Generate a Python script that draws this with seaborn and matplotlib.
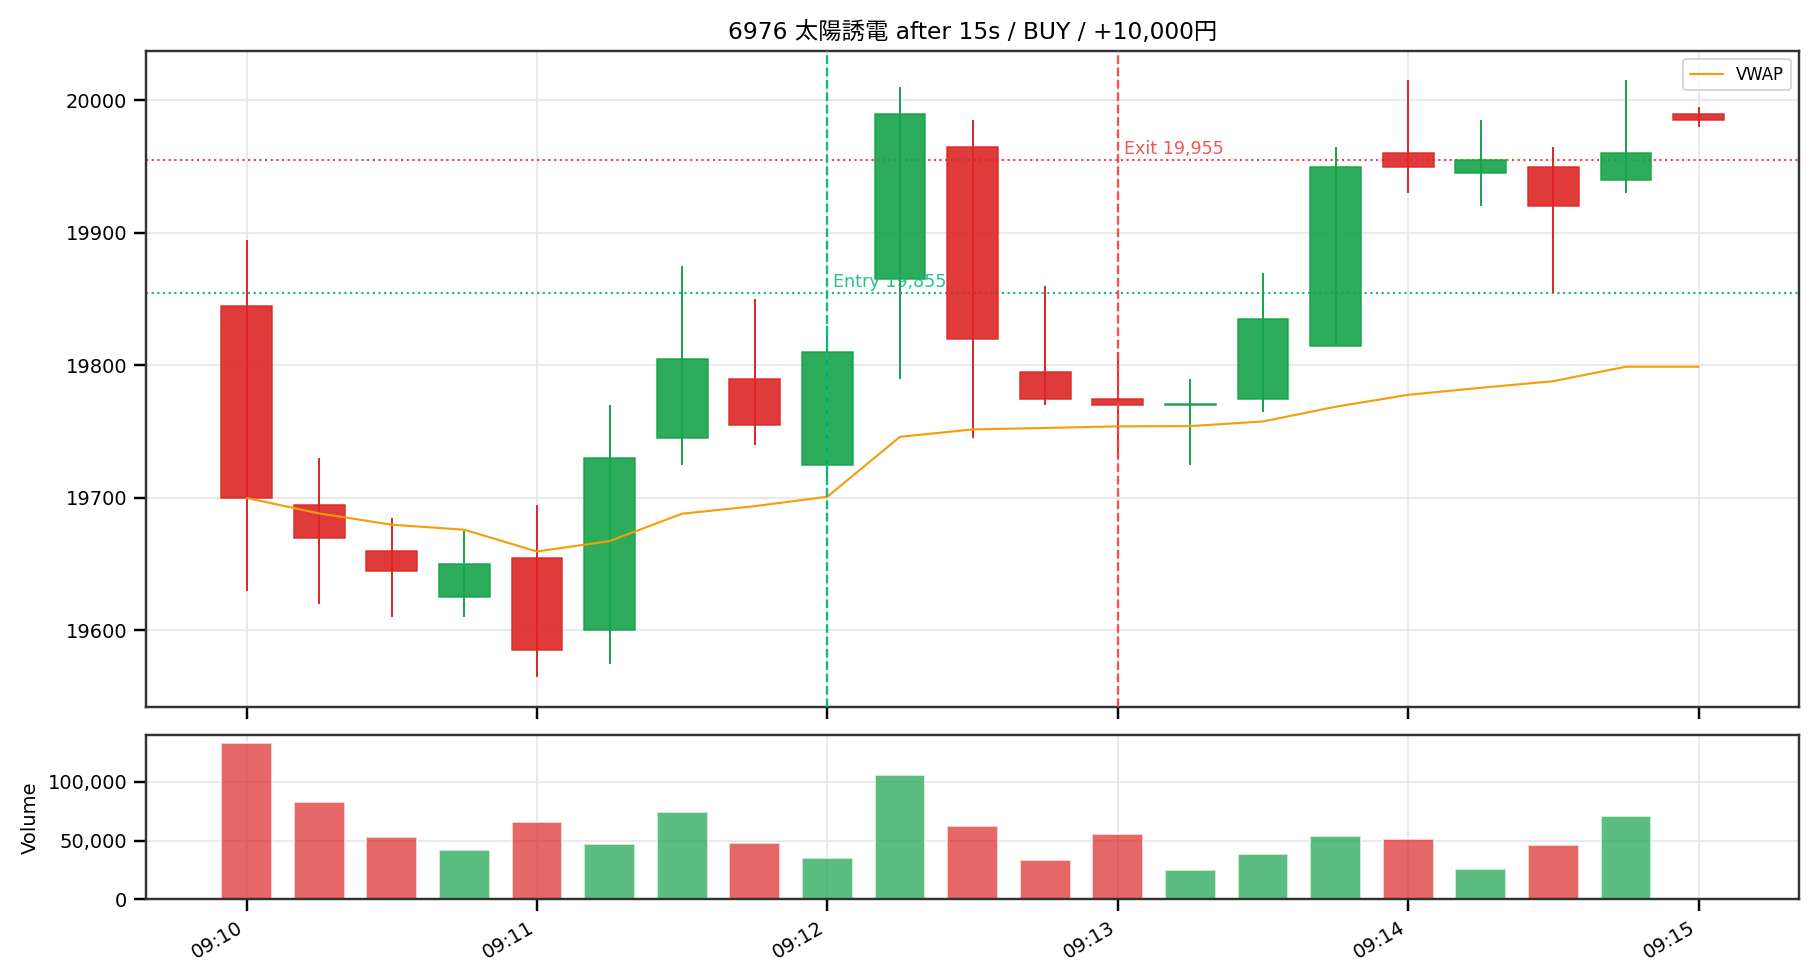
import pandas as pd
import numpy as np
import matplotlib
matplotlib.use("Agg")
import matplotlib.pyplot as plt
import matplotlib.dates as mdates
from matplotlib.ticker import FuncFormatter
import seaborn as sns

sns.set_theme(style="ticks")
plt.rcParams['font.family'] = ['DejaVu Sans', 'Noto Sans CJK JP']
plt.rcParams.update({"text.color": "black", "axes.labelcolor": "black",
                     "xtick.color": "black", "ytick.color": "black"})

# %% data: 15s bars, 09:10:00 - 09:15:00
times = pd.date_range("2024-01-01 09:10:00", periods=21, freq="15s")
opens = [19845, 19695, 19660, 19625, 19655, 19600, 19745, 19790, 19725, 19865, 19965,
         19795, 19775, 19770, 19775, 19815, 19960, 19945, 19950, 19940, 19990]
closes = [19700, 19670, 19645, 19650, 19585, 19730, 19805, 19755, 19810, 19990, 19820,
          19775, 19770, 19770, 19835, 19950, 19950, 19955, 19920, 19960, 19985]
highs = [19895, 19730, 19685, 19675, 19695, 19770, 19875, 19850, 19830, 20010, 19985,
         19860, 19810, 19790, 19870, 19965, 20015, 19985, 19965, 20015, 19995]
lows = [19630, 19620, 19610, 19610, 19565, 19575, 19725, 19740, 19710, 19790, 19745,
        19770, 19730, 19725, 19765, 19815, 19930, 19920, 19855, 19930, 19980]
volumes = [133000, 82700, 53000, 41900, 65700, 47000, 74200, 47900, 35100, 105700, 62300,
           33400, 55500, 24900, 38500, 53800, 51300, 25800, 46200, 70800, 1500]
vwap = [19700.0, 19688.3, 19679.8, 19676.0, 19659.6, 19667.4, 19688.1, 19693.8, 19700.9,
        19746.1, 19751.7, 19752.8, 19754.0, 19754.2, 19757.7, 19768.8, 19777.8, 19783.1,
        19788.1, 19799.0, 19799.0]

entry_time = pd.Timestamp("2024-01-01 09:12:00")
exit_time = pd.Timestamp("2024-01-01 09:13:00")
entry_price = 19855
exit_price = 19955
title = "6976 太陽誘電 after 15s / BUY / +10,000円"

UP = "#16a34a"
DOWN = "#dc2626"

df = pd.DataFrame(dict(time=times, open=opens, close=closes, high=highs, low=lows,
                       volume=volumes, vwap=vwap))
df["color"] = np.where(df.close >= df.open, UP, DOWN)
width = 0.7 * 15 / 86400

# %% plot
fig, (ax, axv) = plt.subplots(2, 1, figsize=(13, 7), dpi=140, sharex=True,
                              gridspec_kw=dict(height_ratios=[4, 1], hspace=0.07))
fig.subplots_adjust(left=0.0802, right=0.9885, top=0.9483, bottom=0.0823)

ax.vlines(df.time, df.low, df.high, colors=df.color, lw=1, zorder=2)
body = (df.close - df.open).abs().clip(lower=1)
ax.bar(df.time, body, bottom=df[["open", "close"]].min(axis=1), width=width,
       color=df.color, edgecolor=df.color, lw=0.8, alpha=0.9, zorder=3)
sns.lineplot(x=df.time, y=df.vwap, ax=ax, color="#f59e0b", lw=1.1, label="VWAP", zorder=4)

ax.axvline(entry_time, color="#10b981", ls="--", lw=1.2, zorder=5)
ax.axvline(exit_time, color="#ef4444", ls="--", lw=1.2, alpha=0.9, zorder=5)
ax.axhline(entry_price, color="#10b981", ls=":", lw=1.1, zorder=1)
ax.axhline(exit_price, color="#ef4444", ls=":", lw=1.1, zorder=1)
ax.annotate(f"Entry {entry_price:,}", (entry_time, entry_price), xytext=(3, 1),
            textcoords="offset points", color="#10b981", fontsize=9, va="bottom", alpha=0.9)
ax.annotate(f"Exit {exit_price:,}", (exit_time, exit_price), xytext=(3, 1),
            textcoords="offset points", color="#ef4444", fontsize=9, va="bottom", alpha=0.9)

ax.set_title(title, fontsize=12)
ax.set_xlabel("")
ax.set_ylabel("")
ax.legend(loc="upper right", fontsize=8.5)
ax.grid(True, color="#e5e5e5", lw=0.8)
ax.tick_params(labelsize=10)

axv.bar(df.time, df.volume, width=width, color=df.color, alpha=0.7)
axv.set_ylabel("Volume", fontsize=10)
axv.yaxis.set_major_formatter(FuncFormatter(lambda v, p: f"{v:,.0f}"))
axv.grid(True, color="#e5e5e5", lw=0.8)
axv.tick_params(labelsize=10)
axv.xaxis.set_major_locator(mdates.MinuteLocator())
axv.xaxis.set_major_formatter(mdates.DateFormatter("%H:%M"))
for lbl in axv.get_xticklabels():
    lbl.set_rotation(30)
    lbl.set_ha("right")

for a in (ax, axv):
    for s in a.spines.values():
        s.set_color("#333333")

fig.savefig("out.png", dpi=140)
